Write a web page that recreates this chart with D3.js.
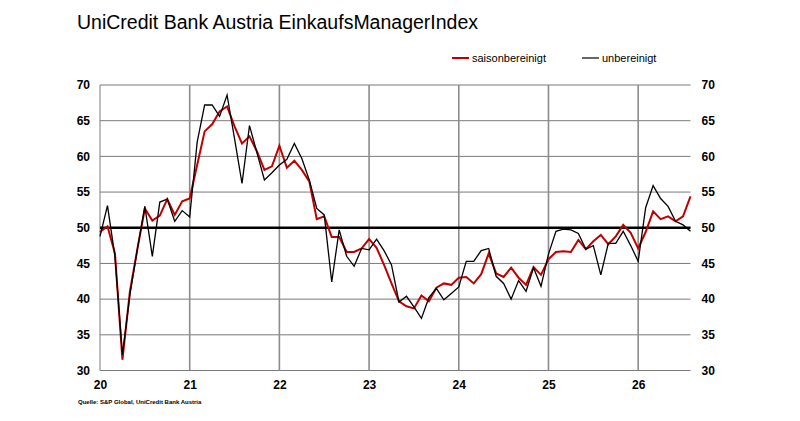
<!DOCTYPE html>
<html>
<head>
<meta charset="utf-8">
<script src="https://cdn.jsdelivr.net/npm/d3@7"></script>
<style>
  body { margin: 0; background: #fff; }
  svg { font-family: "Liberation Sans", Arial, sans-serif; }
</style>
</head>
<body>
<script>
// monthly values, Jan 2020 .. Aug 2026
const saisonbereinigt = [
  49.4, 50.2, 46.4, 31.5, 41.1, 47.0, 52.7, 51.0, 51.7, 54.0, 51.8, 53.7,
  54.1, 58.8, 63.5, 64.5, 66.3, 67.0, 64.2, 61.8, 62.8, 60.7, 58.1, 58.6,
  61.5, 58.4, 59.4, 58.1, 56.5, 51.2, 51.6, 48.7, 48.7, 46.6, 46.6, 47.1,
  48.4, 47.2, 44.8, 42.2, 39.7, 39.0, 38.7, 40.5, 39.7, 41.6, 42.2, 42.0,
  43.0, 43.1, 42.2, 43.5, 46.4, 43.6, 43.1, 44.4, 43.0, 42.0, 44.5, 43.4,
  45.6, 46.6, 46.7, 46.6, 48.3, 47.0, 48.1, 49.0, 47.7, 48.8, 50.4, 49.3,
  47.1, 49.4, 52.3, 51.2, 51.6, 50.9, 51.6, 54.4
];
const unbereinigt = [
  48.8, 53.1, 46.0, 32.2, 40.6, 47.0, 53.0, 46.0, 53.6, 54.0, 50.9, 52.4,
  51.5, 62.0, 67.2, 67.2, 65.6, 68.6, 62.5, 56.2, 64.3, 60.5, 56.7, 57.7,
  58.8, 59.6, 61.8, 59.7, 56.7, 52.7, 51.8, 42.4, 49.7, 46.0, 44.6, 47.1,
  46.9, 48.4, 46.8, 44.8, 39.6, 40.4, 38.9, 37.3, 40.2, 41.5, 39.9, 40.8,
  41.7, 45.3, 45.3, 46.8, 47.1, 43.2, 42.2, 40.0, 42.6, 41.1, 44.4, 41.8,
  46.3, 49.5, 49.8, 49.7, 49.2, 47.0, 47.5, 43.4, 47.8, 47.8, 49.5, 47.5,
  45.3, 52.8, 55.9, 54.1, 53.0, 50.9, 50.4, 49.5
];
const yearLabels = ["20", "21", "22", "23", "24", "25", "26"];
const yTicks = [30, 35, 40, 45, 50, 55, 60, 65, 70];

const W = 800, H = 421;
const pLeft = 100, pRight = 690.5, pTop = 85, pBottom = 370.5;

const svg = d3.select("body").append("svg")
  .attr("width", W).attr("height", H);

const x = d3.scaleLinear().domain([0, saisonbereinigt.length - 1]).range([pLeft, pRight]);
const y = d3.scaleLinear().domain([30, 70]).range([pBottom, pTop]);

// title
svg.append("text")
  .attr("x", 77).attr("y", 29)
  .attr("font-size", 19.5).attr("fill", "#000")
  .text("UniCredit Bank Austria EinkaufsManagerIndex");

// legend
const legend = [
  {name: "saisonbereinigt", color: "#c00000", w: 2, x0: 452},
  {name: "unbereinigt", color: "#000", w: 1.2, x0: 582}
];
legend.forEach(d => {
  svg.append("line")
    .attr("x1", d.x0).attr("x2", d.x0 + 17)
    .attr("y1", 58).attr("y2", 58)
    .attr("stroke", d.color).attr("stroke-width", d.w);
  svg.append("text")
    .attr("x", d.x0 + 20).attr("y", 62)
    .attr("font-size", 11).text(d.name);
});

// horizontal grid
svg.append("g").selectAll("line")
  .data(yTicks)
  .join("line")
  .attr("x1", pLeft).attr("x2", pRight)
  .attr("y1", d => y(d)).attr("y2", d => y(d))
  .attr("stroke", "#7a7a7a").attr("stroke-width", 1);

// vertical grid at year starts
svg.append("g").selectAll("line")
  .data(yearLabels.map((d, i) => i * 12))
  .join("line")
  .attr("x1", d => x(d)).attr("x2", d => x(d))
  .attr("y1", pTop).attr("y2", pBottom)
  .attr("stroke", d => d === 0 ? "#7a7a7a" : "#8c8c8c")
  .attr("stroke-width", d => d === 0 ? 1 : 1.6);

// y axis labels, left and right
const yAxisL = d3.axisLeft(y).tickValues(yTicks).tickSize(0).tickPadding(10);
const yAxisR = d3.axisRight(y).tickValues(yTicks).tickSize(0).tickPadding(11);
[svg.append("g").attr("transform", `translate(${pLeft},0)`).call(yAxisL),
 svg.append("g").attr("transform", `translate(${pRight},0)`).call(yAxisR)]
  .forEach(g => {
    g.select(".domain").remove();
    g.selectAll("text").attr("font-size", 12).attr("font-weight", "bold")
      .attr("font-family", "Liberation Sans, Arial, sans-serif").attr("fill", "#000");
  });

// x axis labels
const xAxis = d3.axisBottom(x)
  .tickValues(yearLabels.map((d, i) => i * 12))
  .tickFormat((d, i) => yearLabels[i])
  .tickSize(0).tickPadding(10);
const gx = svg.append("g").attr("transform", `translate(0,${pBottom})`).call(xAxis);
gx.select(".domain").remove();
gx.selectAll("text").attr("font-size", 12).attr("font-weight", "bold")
  .attr("font-family", "Liberation Sans, Arial, sans-serif").attr("fill", "#000");

// 50 line
svg.append("line")
  .attr("x1", pLeft).attr("x2", pRight)
  .attr("y1", y(50)).attr("y2", y(50))
  .attr("stroke", "#000").attr("stroke-width", 2.5);

const line = d3.line().x((d, i) => x(i)).y(d => y(d));

svg.append("path")
  .datum(saisonbereinigt)
  .attr("d", line)
  .attr("fill", "none").attr("stroke", "#c00000").attr("stroke-width", 2);

svg.append("path")
  .datum(unbereinigt)
  .attr("d", line)
  .attr("fill", "none").attr("stroke", "#000").attr("stroke-width", 1.3);

// source
svg.append("text")
  .attr("x", 78).attr("y", 404)
  .attr("font-size", 6).attr("font-weight", "bold")
  .text("Quelle: S&P Global, UniCredit Bank Austria");
</script>
</body>
</html>
